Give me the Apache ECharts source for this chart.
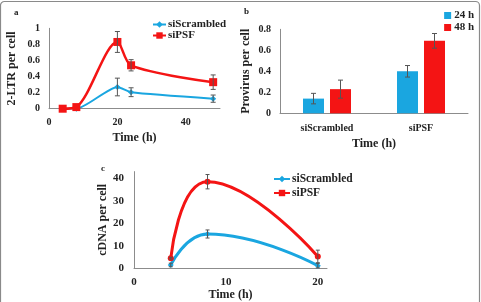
<!DOCTYPE html>
<html>
<head>
<meta charset="UTF-8">
<title>2-LTR / provirus / cDNA</title>
<script src="https://cdn.jsdelivr.net/npm/echarts@6/dist/echarts.min.js"></script>
<style>
    html, body { margin: 0; padding: 0; background: #fff; }
    #main { width: 481px; height: 302px; }
</style>
</head>
<body>
<div id="main"></div>
<script>
    // panel a : 2-LTR per cell
    const timeA = [4, 8, 20, 24, 48];
    const ltrScrambled = [0, 0, 0.27, 0.205, 0.125];
    const ltrScrambledErr = [0, 0, 0.11, 0.055, 0.045];
    const ltrPSF = [0, 0.02, 0.83, 0.54, 0.33];
    const ltrPSFErr = [0, 0, 0.13, 0.07, 0.09];

    // panel b : provirus per cell
    const groups = ['siScrambled', 'siPSF'];
    const provirus24 = [0.14, 0.40];
    const provirus24Err = [0.05, 0.055];
    const provirus48 = [0.23, 0.69];
    const provirus48Err = [0.086, 0.07];

    // panel c : cDNA per cell
    const timeC = [4, 8, 20];
    const cdnaScrambled = [1.4, 15.2, 1.1];
    const cdnaScrambledErr = [0.8, 1.8, 1.0];
    const cdnaPSF = [4.4, 38.5, 5.2];
    const cdnaPSFErr = [0.4, 3.2, 2.8];

    const BLUE = '#1aa6e0';
    const RED = '#f41414';
    const FONT = 'Liberation Serif';
    const AXIS = '#8c8c8c';

    const barWidth = 21;
    const barGapPx = 6;

    let chart = echarts.init(document.getElementById('main'), null, { renderer: 'canvas' });

    function pairs(xs, ys) {
        return xs.map((x, i) => [x, ys[i]]);
    }

    // error bars drawn through the axis scales
    function errorBars(xi, yi, xs, ys, errs, cap, offset) {
        return {
            type: 'custom',
            xAxisIndex: xi,
            yAxisIndex: yi,
            z: 5,
            silent: true,
            encode: { x: 0, y: [1, 2] },
            data: xs.map((x, i) => [x, ys[i] - errs[i], ys[i] + errs[i], errs[i]]),
            renderItem: function (params, api) {
                if (api.value(3) === 0) return null;
                const lo = api.coord([api.value(0), api.value(1)]);
                const hi = api.coord([api.value(0), api.value(2)]);
                const x = lo[0] + (offset || 0);
                const st = { stroke: '#555', lineWidth: 1 };
                return {
                    type: 'group',
                    children: [
                        { type: 'line', shape: { x1: x, y1: hi[1], x2: x, y2: lo[1] }, style: st },
                        { type: 'line', shape: { x1: x - cap / 2, y1: hi[1], x2: x + cap / 2, y2: hi[1] }, style: st },
                        { type: 'line', shape: { x1: x - cap / 2, y1: lo[1], x2: x + cap / 2, y2: lo[1] }, style: st }
                    ]
                };
            }
        };
    }

    const tickFont = { fontFamily: FONT, fontWeight: 'bold', color: '#222' };
    const nameFont = { fontFamily: FONT, fontWeight: 'bold', color: '#222', fontSize: 12 };

    function valueAxis(grid, min, max, interval, opts) {
        return Object.assign({
            type: 'value',
            gridIndex: grid,
            min: min,
            max: max,
            interval: interval,
            splitLine: { show: false },
            axisTick: { show: false },
            axisLine: { show: true, lineStyle: { color: AXIS, width: 1 } },
            axisLabel: Object.assign({ fontSize: 10, margin: 9 }, tickFont, {
                formatter: v => (Math.abs(v / interval - Math.round(v / interval)) < 1e-6 ? String(+v.toFixed(2)) : '')
            }),
            nameLocation: 'middle',
            nameTextStyle: nameFont
        }, opts || {});
    }

    let option = {
        animation: false,
        backgroundColor: '#fff',
        textStyle: { fontFamily: FONT },
        grid: [
            { left: 49, top: 28.3, width: 171, height: 80.4 },
            { left: 280, top: 29.3, width: 188, height: 84 },
            { left: 134, top: 171.6, width: 193, height: 101.7 }
        ],
        xAxis: [
            valueAxis(0, 0, 50, 20, { name: 'Time (h)', nameGap: 23 }),
            {
                type: 'category',
                gridIndex: 1,
                data: groups,
                axisTick: { show: false },
                axisLine: { lineStyle: { color: AXIS, width: 1 } },
                axisLabel: Object.assign({ fontSize: 10, margin: 10 }, tickFont),
                name: 'Time (h)',
                nameLocation: 'middle',
                nameGap: 25,
                nameTextStyle: nameFont
            },
            valueAxis(2, 0, 21, 10, {
                name: 'Time (h)', nameGap: 19,
                axisLabel: Object.assign({ fontSize: 11, margin: 9 }, tickFont, {
                    formatter: v => (v % 10 === 0 ? String(v) : '')
                })
            })
        ],
        yAxis: [
            valueAxis(0, 0, 1, 0.2, { name: '2-LTR per cell', nameGap: 31 }),
            valueAxis(1, 0, 0.8, 0.2, { name: 'Provirus per cell', nameGap: 28 }),
            valueAxis(2, 0, 43, 10, {
                name: 'cDNA per cell', nameGap: 23,
                axisLabel: Object.assign({ fontSize: 11, margin: 10 }, tickFont, {
                    formatter: v => (v % 10 === 0 ? String(v) : '')
                })
            })
        ],
        legend: [
            {
                data: ['siScrambled', 'siPSF'],
                left: 147, top: 14, orient: 'vertical',
                itemWidth: 13, itemHeight: 8, itemGap: 0,
                textStyle: { fontFamily: FONT, fontWeight: 'bold', fontSize: 11, color: '#222', padding: [0, 0, 0, -3] }
            },
            {
                data: ['24 h', '48 h'],
                right: 2, top: 5, orient: 'vertical',
                icon: 'rect', itemWidth: 7, itemHeight: 7, itemGap: 1,
                textStyle: { fontFamily: FONT, fontWeight: 'bold', fontSize: 11, color: '#222', padding: [0, 0, 0, -2] }
            },
            {
                data: ['siScrambled', 'siPSF'],
                left: 268, top: 168, orient: 'vertical',
                itemWidth: 16, itemHeight: 8, itemGap: 2,
                textStyle: { fontFamily: FONT, fontWeight: 'bold', fontSize: 11.5, color: '#222', padding: [0, 0, 0, -3] }
            }
        ],
        graphic: [
            {
                type: 'rect', silent: true, z: -1,
                shape: { x: 0.5, y: 1.5, width: 479, height: 330, r: 4 },
                style: { fill: null, stroke: '#8a8a8a', lineWidth: 1.2 }
            },
            { type: 'text', left: 14, top: 8, style: { text: 'a', font: 'bold 9px "Liberation Serif"', fill: '#222' } },
            { type: 'text', left: 244, top: 7, style: { text: 'b', font: 'bold 9px "Liberation Serif"', fill: '#222' } },
            { type: 'text', left: 101, top: 164, style: { text: 'c', font: 'bold 9px "Liberation Serif"', fill: '#222' } }
        ],
        series: [
            // panel a
            {
                name: 'siScrambled', type: 'line', xAxisIndex: 0, yAxisIndex: 0,
                data: pairs(timeA, ltrScrambled), smooth: 0.2,
                symbol: 'diamond', symbolSize: 6,
                lineStyle: { color: BLUE, width: 2 }, itemStyle: { color: BLUE }, z: 3
            },
            {
                name: 'siPSF', type: 'line', xAxisIndex: 0, yAxisIndex: 0,
                data: pairs(timeA, ltrPSF), smooth: 0.3,
                symbol: 'rect', symbolSize: 8,
                lineStyle: { color: RED, width: 2.5 }, itemStyle: { color: RED }, z: 4
            },
            errorBars(0, 0, timeA, ltrScrambled, ltrScrambledErr, 5),
            errorBars(0, 0, timeA, ltrPSF, ltrPSFErr, 5),

            // panel b
            {
                name: '24 h', type: 'bar', xAxisIndex: 1, yAxisIndex: 1,
                data: provirus24, barWidth: barWidth, barGap: (barGapPx / barWidth * 100) + '%',
                itemStyle: { color: BLUE }
            },
            {
                name: '48 h', type: 'bar', xAxisIndex: 1, yAxisIndex: 1,
                data: provirus48, barWidth: barWidth,
                itemStyle: { color: RED }
            },
            errorBars(1, 1, [0, 1], provirus24, provirus24Err, 5, -(barWidth + barGapPx) / 2),
            errorBars(1, 1, [0, 1], provirus48, provirus48Err, 5, (barWidth + barGapPx) / 2),

            // panel c
            {
                name: 'siScrambled', type: 'line', xAxisIndex: 2, yAxisIndex: 2,
                data: pairs(timeC, cdnaScrambled), smooth: 0.5,
                symbol: 'diamond', symbolSize: 6,
                lineStyle: { color: BLUE, width: 3 }, itemStyle: { color: BLUE }, z: 3
            },
            {
                name: 'siPSF', type: 'line', xAxisIndex: 2, yAxisIndex: 2,
                data: pairs(timeC, cdnaPSF), smooth: 0.5,
                symbol: 'circle', symbolSize: 6,
                lineStyle: { color: RED, width: 3 }, itemStyle: { color: RED }, z: 4
            },
            errorBars(2, 2, timeC, cdnaScrambled, cdnaScrambledErr, 4),
            errorBars(2, 2, timeC, cdnaPSF, cdnaPSFErr, 4)
        ]
    };

    chart.setOption(option);
</script>
</body>
</html>
